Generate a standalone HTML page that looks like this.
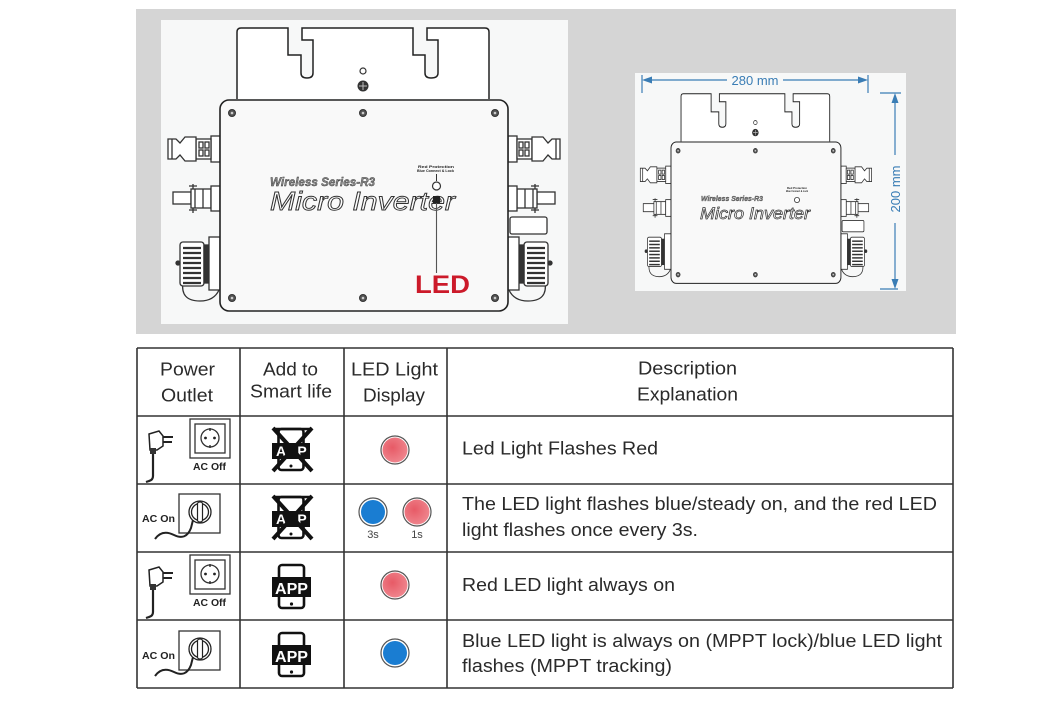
<!DOCTYPE html>
<html><head><meta charset="utf-8">
<style>
html,body{margin:0;padding:0;background:#fff;}
svg{display:block;}
text{font-family:"Liberation Sans",Arial,sans-serif;}
</style></head>
<body>
<svg width="1059" height="706" viewBox="0 0 1059 706" xmlns="http://www.w3.org/2000/svg">
<defs>
  <g id="conn">
    <g fill="#fff" stroke="#333" stroke-width="1.3">
      <rect x="211" y="136" width="9" height="26"/>
      <rect x="196" y="139" width="15" height="20"/>
      <rect x="199" y="142" width="4" height="6"/><rect x="205" y="142" width="4" height="6"/>
      <rect x="199" y="150" width="4" height="6"/><rect x="205" y="150" width="4" height="6"/>
      <polygon points="168,139 176,139 180,143 185,137 196,137 196,161 185,161 180,155 176,159 168,159"/>
      <line x1="172" y1="139" x2="172" y2="159"/>
    </g>
    <g fill="#fff" stroke="#333" stroke-width="1.3">
      <rect x="173" y="192" width="18" height="12"/>
      <rect x="191" y="189" width="20" height="19"/>
      <rect x="211" y="186" width="9" height="25"/>
      <line x1="195" y1="189" x2="195" y2="208"/><line x1="203" y1="189" x2="203" y2="208"/>
      <path d="M189,186 L197,186 M189,210 L197,210 M193,184 L193,189 M193,208 L193,213"/>
    </g>
    <g stroke="#333" stroke-width="1.3">
      <path d="M183,282 Q180,301 200,301 Q214,301 219,290" fill="none"/>
      <rect x="180" y="242" width="24" height="44" rx="3" fill="#fff"/>
      <g stroke-width="2.2">
        <line x1="183" y1="248" x2="201" y2="248"/><line x1="183" y1="253" x2="201" y2="253"/>
        <line x1="183" y1="258" x2="201" y2="258"/><line x1="183" y1="263" x2="201" y2="263"/>
        <line x1="183" y1="268" x2="201" y2="268"/><line x1="183" y1="273" x2="201" y2="273"/>
        <line x1="183" y1="278" x2="201" y2="278"/><line x1="183" y1="283" x2="201" y2="283"/>
      </g>
      <rect x="204" y="245" width="5" height="38" fill="#333"/>
      <rect x="209" y="237" width="11" height="53" fill="#fff"/>
      <circle cx="178" cy="263" r="2" fill="#333"/>
    </g>
  </g>
  <g id="inv">
    <use href="#conn"/>
    <use href="#conn" transform="translate(728,0) scale(-1,1)"/>
    <rect x="510" y="217" width="37" height="17" rx="2" fill="#fff" stroke="#333" stroke-width="1.3"/>
    <path d="M237,99 L237,32 Q237,28 241,28 L288,28 L288,55 L301,55 L301,73 Q301,78 307,78 Q313,78 313,73 L313,40 L302,40 L302,28 L413,28 L413,55 L425,55 L425,73 Q425,78 431,78 Q438,78 438,73 L438,40 L427,40 L427,28 L485,28 Q489,28 489,32 L489,99" fill="#fff" stroke="#222" stroke-width="1.5"/>
    <circle cx="363" cy="71" r="3" fill="#fff" stroke="#333" stroke-width="1.2"/>
    <circle cx="363" cy="86" r="5.5" fill="#333"/>
    <path d="M359,86 L367,86 M363,82 L363,90" stroke="#bbb" stroke-width="1"/>
    <rect x="220" y="100" width="288" height="211" rx="9" fill="#f9f9f9" stroke="#222" stroke-width="1.6"/>
    <g fill="#555" stroke="#333" stroke-width="1">
      <circle cx="232" cy="113" r="3.5"/><circle cx="363" cy="113" r="3.5"/><circle cx="495" cy="113" r="3.5"/>
      <circle cx="232" cy="298" r="3.5"/><circle cx="363" cy="298" r="3.5"/><circle cx="495" cy="298" r="3.5"/>
    </g>
    <g fill="#ccc">
      <circle cx="232" cy="113" r="1.3"/><circle cx="363" cy="113" r="1.3"/><circle cx="495" cy="113" r="1.3"/>
      <circle cx="232" cy="298" r="1.3"/><circle cx="363" cy="298" r="1.3"/><circle cx="495" cy="298" r="1.3"/>
    </g>
  </g>
  <radialGradient id="rg" cx="0.4" cy="0.4" r="0.7">
    <stop offset="0" stop-color="#e75a66"/><stop offset="1" stop-color="#f08a92"/>
  </radialGradient>
</defs>

<rect x="136" y="9" width="820" height="325" fill="#d5d5d5"/>
<rect x="161" y="20" width="407" height="304" fill="#f7f8f8"/>
<rect x="635" y="73" width="271" height="218" fill="#f7f8f8"/>

<use href="#inv"/>
<text x="270" y="186" font-size="12" font-weight="bold" font-style="italic" fill="#888" stroke="#333" stroke-width="0.4" textLength="105" lengthAdjust="spacingAndGlyphs">Wireless Series-R3</text>
<text x="270" y="210" font-size="26" font-style="italic" fill="#fff" stroke="#333" stroke-width="0.9" textLength="185" lengthAdjust="spacingAndGlyphs">Micro Inverter</text>
<text x="418" y="168" font-size="4" font-weight="bold" fill="#222" textLength="36" lengthAdjust="spacingAndGlyphs">Red Protection</text>
<text x="417" y="172" font-size="4" font-weight="bold" fill="#222" textLength="37" lengthAdjust="spacingAndGlyphs">Blue Connect &amp; Lock</text>
<line x1="436.5" y1="174" x2="436.5" y2="181" stroke="#333" stroke-width="1"/>
<circle cx="436.5" cy="186" r="4" fill="#fff" stroke="#333" stroke-width="1.2"/>
<rect x="433" y="196" width="7" height="7" fill="#222"/>
<line x1="436.5" y1="203" x2="436.5" y2="273" stroke="#555" stroke-width="1.1"/>
<text x="415" y="293" font-size="25" font-weight="bold" fill="#cc1a2a" textLength="55" lengthAdjust="spacingAndGlyphs">LED</text>

<use href="#inv" transform="translate(671,142) scale(0.59,0.67) translate(-220,-100)"/>
<text x="701" y="201" font-size="7" font-weight="bold" font-style="italic" fill="#888" stroke="#333" stroke-width="0.3" textLength="62" lengthAdjust="spacingAndGlyphs">Wireless Series-R3</text>
<text x="700" y="219" font-size="17" font-style="italic" fill="#fff" stroke="#333" stroke-width="0.7" textLength="110" lengthAdjust="spacingAndGlyphs">Micro Inverter</text>
<text x="787" y="189" font-size="3" font-weight="bold" fill="#222" textLength="20" lengthAdjust="spacingAndGlyphs">Red Protection</text>
<text x="786" y="192" font-size="3" font-weight="bold" fill="#222" textLength="22" lengthAdjust="spacingAndGlyphs">Blue Connect &amp; Lock</text>
<circle cx="797" cy="200" r="2.6" fill="#fff" stroke="#333" stroke-width="0.8"/>

<g stroke="#3a7db5" stroke-width="1.2" fill="#3a7db5">
  <line x1="642" y1="75" x2="642" y2="93"/><line x1="868" y1="75" x2="868" y2="93"/>
  <line x1="648" y1="80" x2="727" y2="80"/><line x1="783" y1="80" x2="862" y2="80"/>
  <polygon points="642,80 652,76.5 652,83.5" stroke="none"/>
  <polygon points="868,80 858,76.5 858,83.5" stroke="none"/>
  <line x1="880" y1="93" x2="901" y2="93"/><line x1="880" y1="289" x2="898" y2="289"/>
  <line x1="895" y1="99" x2="895" y2="155"/><line x1="895" y1="223" x2="895" y2="283"/>
  <polygon points="895,93 891.5,103 898.5,103" stroke="none"/>
  <polygon points="895,289 891.5,279 898.5,279" stroke="none"/>
</g>
<text x="755" y="85" font-size="13" fill="#3a7db5" text-anchor="middle">280 mm</text>
<text x="0" y="0" font-size="13" fill="#3a7db5" text-anchor="middle" transform="translate(900,189) rotate(-90)">200 mm</text>

<g stroke="#333" stroke-width="1.6">
  <line x1="137" y1="348" x2="953" y2="348"/>
  <line x1="137" y1="416" x2="953" y2="416"/>
  <line x1="137" y1="484" x2="953" y2="484"/>
  <line x1="137" y1="552" x2="953" y2="552"/>
  <line x1="137" y1="620" x2="953" y2="620"/>
  <line x1="137" y1="688" x2="953" y2="688"/>
  <line x1="137" y1="348" x2="137" y2="688"/>
  <line x1="240" y1="348" x2="240" y2="688"/>
  <line x1="344" y1="348" x2="344" y2="688"/>
  <line x1="447" y1="348" x2="447" y2="688"/>
  <line x1="953" y1="348" x2="953" y2="688"/>
</g>

<g font-size="18" fill="#2a2a2a">
  <text x="160" y="375.5" textLength="55" lengthAdjust="spacingAndGlyphs">Power</text>
  <text x="161" y="401.5" textLength="52" lengthAdjust="spacingAndGlyphs">Outlet</text>
  <text x="263" y="375.5" textLength="55" lengthAdjust="spacingAndGlyphs">Add to</text>
  <text x="250" y="397.5" textLength="82" lengthAdjust="spacingAndGlyphs">Smart life</text>
  <text x="351" y="375.5" textLength="87" lengthAdjust="spacingAndGlyphs">LED Light</text>
  <text x="363" y="401.5" textLength="62" lengthAdjust="spacingAndGlyphs">Display</text>
  <text x="638" y="374.5" textLength="99" lengthAdjust="spacingAndGlyphs">Description</text>
  <text x="637" y="400.5" textLength="101" lengthAdjust="spacingAndGlyphs">Explanation</text>

  <text x="462" y="454.5" textLength="196" lengthAdjust="spacingAndGlyphs">Led Light Flashes Red</text>
  <text x="462" y="510" textLength="475" lengthAdjust="spacingAndGlyphs">The LED light flashes blue/steady on, and the red LED</text>
  <text x="462" y="536" textLength="236" lengthAdjust="spacingAndGlyphs">light flashes once every 3s.</text>
  <text x="462" y="591" textLength="213" lengthAdjust="spacingAndGlyphs">Red LED light always on</text>
  <text x="462" y="647" textLength="480" lengthAdjust="spacingAndGlyphs">Blue LED light is always on (MPPT lock)/blue LED light</text>
  <text x="462" y="672" textLength="210" lengthAdjust="spacingAndGlyphs">flashes (MPPT tracking)</text>
</g>

<g stroke="#555" stroke-width="1.2">
  <circle cx="395" cy="450" r="14" fill="#fff"/><circle cx="395" cy="450" r="12.5" fill="url(#rg)" stroke="none"/>
  <circle cx="373" cy="512" r="14" fill="#fff"/><circle cx="373" cy="512" r="12" fill="#1a7dd2" stroke="none"/>
  <circle cx="417" cy="512" r="14" fill="#fff"/><circle cx="417" cy="512" r="12.5" fill="url(#rg)" stroke="none"/>
  <circle cx="395" cy="585" r="14" fill="#fff"/><circle cx="395" cy="585" r="12.5" fill="url(#rg)" stroke="none"/>
  <circle cx="395" cy="653" r="14" fill="#fff"/><circle cx="395" cy="653" r="12" fill="#1a7dd2" stroke="none"/>
</g>
<text x="373" y="538" font-size="11" fill="#444" text-anchor="middle">3s</text>
<text x="417" y="538" font-size="11" fill="#444" text-anchor="middle">1s</text>

<g id="acoff">
  <g fill="none" stroke="#333" stroke-width="1.3">
    <rect x="190" y="419" width="40" height="39"/>
    <rect x="195" y="424" width="30" height="29"/>
    <circle cx="210" cy="438" r="9"/>
  </g>
  <circle cx="205.5" cy="438" r="1.4" fill="#222"/><circle cx="214.5" cy="438" r="1.4" fill="#222"/>
  <line x1="210" y1="428" x2="210" y2="431" stroke="#222" stroke-width="1.3"/>
  <line x1="210" y1="445" x2="210" y2="448" stroke="#222" stroke-width="1.3"/>
  <text x="193" y="470" font-size="10" font-weight="bold" fill="#222" textLength="33" lengthAdjust="spacingAndGlyphs">AC Off</text>
  <path d="M153,450 L153,476 Q153,480 149,481 L146,482" fill="none" stroke="#222" stroke-width="2.2"/>
  <polygon points="149,434 159,431 163,436 163,446 157,450 150,450" fill="#fff" stroke="#222" stroke-width="1.5"/>
  <line x1="163" y1="437" x2="173" y2="437" stroke="#222" stroke-width="2"/>
  <line x1="163" y1="442" x2="172" y2="442" stroke="#222" stroke-width="2"/>
  <rect x="150" y="448" width="6" height="6" fill="#333"/>
</g>
<use href="#acoff" transform="translate(0,136)"/>

<g id="acon">
  <rect x="179" y="494" width="41" height="39" fill="none" stroke="#333" stroke-width="1.3"/>
  <circle cx="200" cy="512" r="11" fill="none" stroke="#222" stroke-width="1.3"/>
  <circle cx="200" cy="512" r="8.5" fill="none" stroke="#222" stroke-width="1.3"/>
  <rect x="197.5" y="502" width="5" height="20" rx="2" fill="#fff" stroke="#222" stroke-width="1.2"/>
  <path d="M193,520 L191,528 Q186,541 174,535 Q162,529 155,539" fill="none" stroke="#222" stroke-width="2"/>
  <text x="142" y="522" font-size="10.5" font-weight="bold" fill="#222" textLength="33" lengthAdjust="spacingAndGlyphs">AC On</text>
</g>
<use href="#acon" transform="translate(0,137)"/>

<g id="appx">
  <rect x="278.5" y="429" width="25" height="41" rx="3" fill="none" stroke="#111" stroke-width="2.6"/>
  <rect x="272" y="443" width="38" height="16" fill="#111"/>
  <text x="281" y="456" font-size="14" font-weight="bold" fill="#fff" text-anchor="middle">A</text>
  <text x="302" y="456" font-size="14" font-weight="bold" fill="#fff" text-anchor="middle">P</text>
  <line x1="273" y1="428" x2="312" y2="471" stroke="#111" stroke-width="4"/>
  <line x1="312" y1="428" x2="273" y2="471" stroke="#111" stroke-width="4"/>
  <line x1="273" y1="429" x2="312" y2="429" stroke="#111" stroke-width="2.6"/>
  <circle cx="291" cy="466" r="1.5" fill="#111"/>
</g>
<use href="#appx" transform="translate(0,68)"/>

<g id="app">
  <rect x="279" y="565" width="25" height="43" rx="3" fill="none" stroke="#111" stroke-width="2.6"/>
  <rect x="272" y="577" width="39" height="20" fill="#111"/>
  <text x="291.5" y="594" font-size="16" font-weight="bold" fill="#fff" text-anchor="middle" textLength="33" lengthAdjust="spacingAndGlyphs">APP</text>
  <circle cx="291.5" cy="604" r="1.6" fill="#111"/>
</g>
<use href="#app" transform="translate(0,68)"/>
</svg>
</body></html>
